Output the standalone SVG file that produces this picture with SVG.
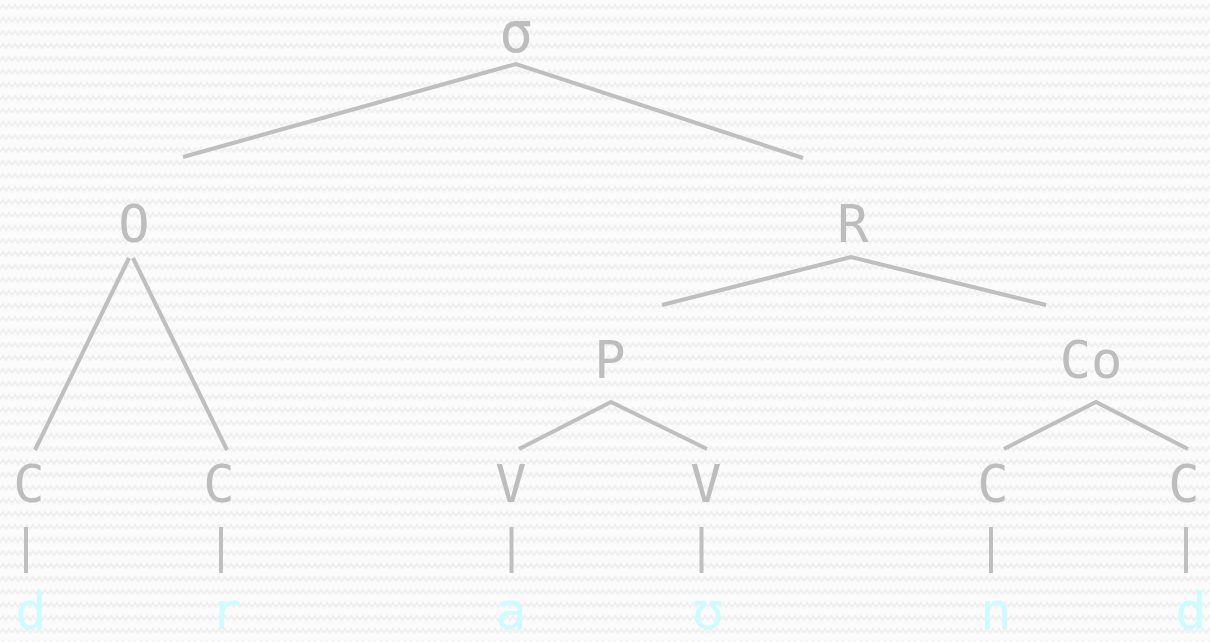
<svg xmlns="http://www.w3.org/2000/svg" width="1210" height="642" viewBox="0 0 1210 642">
  <defs>
    <pattern id="weave" width="12" height="13" patternUnits="userSpaceOnUse">
      <rect width="12" height="13" fill="#fbfbfb"/>
      <path d="M0 9 L3 5 L6 9 L9 5 L12 9" fill="none" stroke="#f0f0f0" stroke-width="2"/>
    </pattern>
    <style>
      .lbl { font-family: "DejaVu Sans Mono", "Liberation Mono", monospace; font-size: 52px; fill: #bdbdbd; text-anchor: middle; }
      .seg { font-family: "DejaVu Sans Mono", "Liberation Mono", monospace; font-size: 52px; fill: #ccfcff; text-anchor: middle; }
      .edge { fill: none; stroke: #bfbfbf; stroke-width: 4; stroke-linecap: butt; }
    </style>
  </defs>

  <rect width="1210" height="642" fill="url(#weave)"/>

  <!-- branches -->
  <g id="connectors">
    <polyline class="edge" points="183,157 516,64 803,158"/>
    <line class="edge" x1="129" y1="258" x2="35" y2="450"/>
    <line class="edge" x1="133" y1="258" x2="227" y2="450"/>
    <polyline class="edge" points="662,305 851,257 1046,305"/>
    <polyline class="edge" points="519,449 611,402 707,449"/>
    <polyline class="edge" points="1004,449 1096,402 1188,449"/>
    <line class="edge" x1="26" y1="527" x2="26" y2="573"/>
    <line class="edge" x1="221" y1="527" x2="221" y2="573"/>
    <line class="edge" x1="511.5" y1="527" x2="511.5" y2="573"/>
    <line class="edge" x1="701.5" y1="527" x2="701.5" y2="573"/>
    <line class="edge" x1="991" y1="527" x2="991" y2="573"/>
    <line class="edge" x1="1186" y1="527" x2="1186" y2="573"/>
  </g>

  <!-- syllable structure -->
  <g id="sigma"><text class="lbl" x="516" y="52" style="font-size:56px">σ</text></g>
  <g id="onset"><text class="lbl" x="134" y="242">O</text></g>
  <g id="rhyme"><text class="lbl" x="853" y="242">R</text></g>
  <g id="peak"><text class="lbl" x="610" y="378">P</text></g>
  <g id="coda"><text class="lbl" x="1091" y="378">Co</text></g>

  <!-- skeletal slots -->
  <g id="c1"><text class="lbl" x="29" y="502">C</text></g>
  <g id="c2"><text class="lbl" x="219" y="502">C</text></g>
  <g id="v1"><text class="lbl" x="511" y="502">V</text></g>
  <g id="v2"><text class="lbl" x="706" y="502">V</text></g>
  <g id="c3"><text class="lbl" x="993" y="502">C</text></g>
  <g id="c4"><text class="lbl" x="1184" y="502">C</text></g>

  <!-- segments -->
  <g id="s1"><text class="seg" x="31" y="629">d</text></g>
  <g id="s2"><text class="seg" x="226" y="629">r</text></g>
  <g id="s3"><text class="seg" x="511" y="629">a</text></g>
  <g id="s4"><text class="seg" x="708" y="629">ʊ</text></g>
  <g id="s5"><text class="seg" x="996" y="629">n</text></g>
  <g id="s6"><text class="seg" x="1191" y="629">d</text></g>
</svg>
